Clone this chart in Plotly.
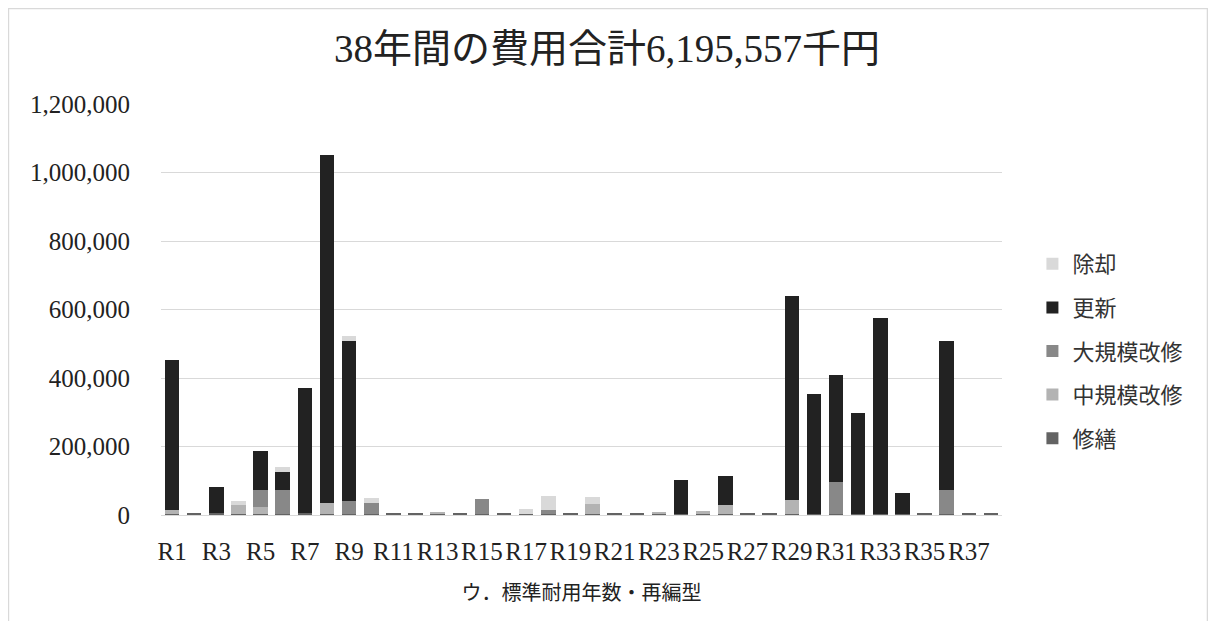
import plotly.graph_objects as go

categories = [f"R{i}" for i in range(1, 39)]

# values in 千円, bottom-up stacking order
shuuzen = [3000, 5000, 5000, 4000, 4000, 4000, 5000, 4000, 4000, 4000,
           4000, 4000, 4000, 4000, 4000, 4000, 4000, 4000, 4000, 4000,
           4000, 3000, 4000, 3000, 4000, 4000, 3000, 3000, 3000, 3000,
           3000, 3000, 3000, 3000, 3000, 3000, 3000, 3000]
chuukibo = [11000, 0, 0, 25000, 20000, 0, 0, 31000, 0, 0,
            0, 0, 4000, 0, 0, 0, 0, 0, 0, 29000,
            0, 0, 6000, 0, 8000, 24000, 0, 0, 40000, 0,
            0, 0, 0, 0, 0, 0, 0, 0]
daikibo = [0, 0, 0, 0, 49000, 68000, 0, 0, 37000, 32000,
           0, 0, 0, 0, 43000, 0, 0, 10000, 0, 0,
           0, 0, 0, 0, 0, 0, 0, 0, 0, 0,
           92000, 0, 0, 0, 0, 71000, 0, 0]
koushin = [440000, 0, 76000, 0, 113000, 54000, 367000, 1016000, 467000, 0,
           0, 0, 0, 0, 0, 0, 0, 0, 0, 0,
           0, 0, 0, 98000, 0, 85000, 0, 0, 597000, 349000,
           313000, 294000, 571000, 61000, 0, 433000, 0, 0]
jokyaku = [0, 0, 0, 12000, 0, 13000, 0, 0, 15000, 14000,
           0, 0, 0, 0, 0, 0, 13000, 41000, 0, 20000,
           0, 0, 0, 0, 0, 0, 0, 0, 0, 0,
           0, 0, 0, 0, 0, 0, 0, 0]

series = [
    ("修繕", shuuzen, "#636363"),
    ("中規模改修", chuukibo, "#b3b3b3"),
    ("大規模改修", daikibo, "#888888"),
    ("更新", koushin, "#222222"),
    ("除却", jokyaku, "#d9d9d9"),
]

title_text = "38年間の費用合計6,195,557千円"
xaxis_title = "ウ．標準耐用年数・再編型"

SERIF = "Liberation Serif, Noto Sans CJK JP, serif"
SANS = "Noto Sans CJK JP, sans-serif"

fig = go.Figure()
n = len(series)
for i, (name, vals, color) in enumerate(series):
    fig.add_trace(go.Bar(
        x=categories, y=vals, name=name, legendgroup=name,
        legendrank=(n - i) * 10,
        marker=dict(color=color, line=dict(width=0)),
    ))

W, H = 1216, 621
OFF = 8  # page body margin
L, T = 153, 96
R = W - (1001.6 - OFF)
B = H - (515 - OFF)
pw, ph = W - L - R, H - T - B

def px_x(p):  # figure pixel -> paper
    return (p - L) / pw

def px_y(p):
    return (H - B - p) / ph

fig.update_layout(
    width=W, height=H,
    barmode="stack", bargap=0.345,
    plot_bgcolor="white", paper_bgcolor="white",
    margin=dict(l=L, r=R, t=T, b=B),
    title=dict(text=title_text, x=599 / W, xref="container", xanchor="center",
               y=1 - 40 / H, yanchor="middle",
               font=dict(family=SERIF, size=39, color="#222222")),
    legend=dict(traceorder="grouped", x=px_x(1024), xanchor="left",
                y=px_y(343), yanchor="middle", tracegroupgap=12,
                font=dict(family=SANS, size=22, color="#333333"),
                bgcolor="rgba(0,0,0,0)"),
    xaxis=dict(type="category", dtick=2, showgrid=False, tickangle=0,
               showline=True, linecolor="#d9d9d9", linewidth=1,
               ticks="", tickfont=dict(family=SERIF, size=25, color="#222222"),
               ticklabelstandoff=14,
               title=dict(text=xaxis_title, font=dict(family=SERIF, size=20, color="#222222"),
                          standoff=21)),
    yaxis=dict(range=[0, 1200000], dtick=200000, tickformat=",d",
               showgrid=True, gridcolor="#d9d9d9", gridwidth=1,
               zeroline=True, zerolinecolor="#d9d9d9", zerolinewidth=1,
               showline=False, ticks="",
               tickfont=dict(family=SERIF, size=25, color="#222222"),
               ticklabelstandoff=30),
    shapes=[dict(type="rect", xref="paper", yref="paper",
                 x0=px_x(0.5), x1=px_x(1199), y0=px_y(660), y1=px_y(0.5),
                 line=dict(color="#d9d9d9", width=1.5), fillcolor="rgba(0,0,0,0)",
                 layer="below")],
)

fig.write_html("out.html")
